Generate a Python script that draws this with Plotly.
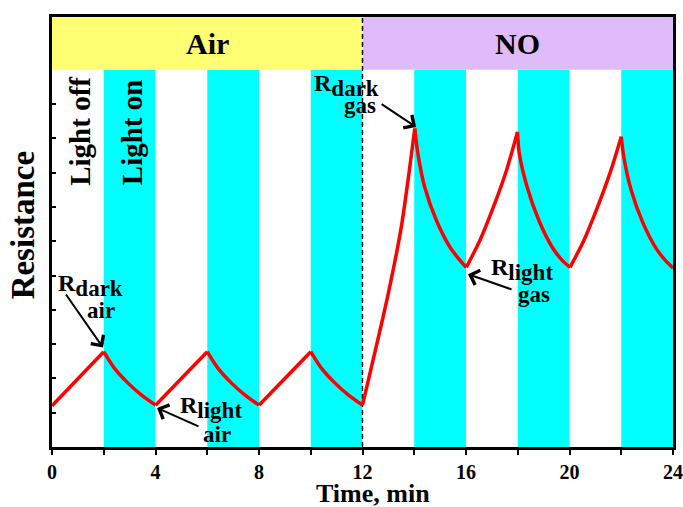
import plotly.graph_objects as go

# ---------------- data ----------------
time_min = [0, 2, 2.41, 2.93, 3.45, 4,
            6, 6.41, 6.93, 7.45, 8,
            10, 10.41, 10.93, 11.45, 12,
            12.5, 13, 13.5, 14.02,
            14.14, 14.40, 14.85, 15.37, 15.76, 16.01,
            16.54, 17.06, 17.57, 17.99,
            18.06, 18.36, 18.81, 19.32, 19.71, 20.02,
            20.54, 21.06, 21.57, 22.0,
            22.10, 22.38, 22.83, 23.34, 23.73, 24]
resistance = [1.20, 2.78, 2.30, 1.87, 1.52, 1.22,
              2.78, 2.30, 1.87, 1.52, 1.22,
              2.78, 2.30, 1.87, 1.52, 1.22,
              2.83, 4.49, 6.42, 9.29,
              8.56, 7.59, 6.62, 5.84, 5.45, 5.24,
              6.03, 7.00, 8.08, 9.19,
              8.56, 7.59, 6.62, 5.84, 5.45, 5.24,
              6.00, 6.95, 8.00, 9.05,
              8.45, 7.50, 6.55, 5.80, 5.42, 5.22]

light_on_starts = [2, 6, 10, 14, 18, 22]
light_on_length = 2
phase_names = ["Air", "NO"]
phase_starts = [0, 12]
phase_ends = [12, 24]
phase_colors = ["#FFFF73", "#DFBBFA"]
x_major_ticks = [0, 4, 8, 12, 16, 20, 24]
x_minor_ticks = [2, 6, 10, 14, 18, 22]
y_tick_vals = [0, 1, 2, 3, 4, 5, 6, 7, 8, 9, 10]

Y_MAX = 12.54
HEADER_BOTTOM = 11.0
FONT = "Liberation Serif"

fig = go.Figure()

# split the curve into monotonic pieces so cusps stay sharp
segments = []
start = 0
for i in range(1, len(resistance) - 1):
    d1 = resistance[i] - resistance[i - 1]
    d2 = resistance[i + 1] - resistance[i]
    if d1 * d2 < 0:
        segments.append((start, i))
        start = i
segments.append((start, len(resistance) - 1))

for a, b in segments:
    fig.add_trace(go.Scatter(
        x=time_min[a:b + 1], y=resistance[a:b + 1], mode="lines",
        line=dict(color="#FF0000", width=3.5, shape="spline", smoothing=0.8),
        showlegend=False, hoverinfo="skip"))

shapes = []
for s in light_on_starts:
    shapes.append(dict(type="rect", xref="x", yref="y", x0=s, x1=s + light_on_length,
                       y0=0, y1=HEADER_BOTTOM, fillcolor="#00FFFF", line=dict(width=0),
                       layer="below"))
for name, x0, x1, c in zip(phase_names, phase_starts, phase_ends, phase_colors):
    shapes.append(dict(type="rect", xref="x", yref="y", x0=x0, x1=x1,
                       y0=HEADER_BOTTOM, y1=Y_MAX, fillcolor=c, line=dict(width=0),
                       layer="below"))
shapes.append(dict(type="line", xref="x", yref="y", x0=12, x1=12, y0=0, y1=Y_MAX,
                   line=dict(color="black", width=1.4, dash="5px,3px"), layer="below"))

ann = []
def txt(x, y, s, size, angle=0, xanchor="center"):
    ann.append(dict(x=x, y=y, xref="x", yref="y", text=s, showarrow=False,
                    textangle=angle, xanchor=xanchor, yanchor="middle",
                    font=dict(family=FONT, size=size, color="black", weight="bold")))

def arrow(x_tail, y_tail, x_head, y_head):
    ann.append(dict(x=x_head, y=y_head, ax=x_tail, ay=y_tail, xref="x", yref="y",
                    axref="x", ayref="y", text="", showarrow=True, arrowhead=4,
                    arrowsize=1.5, arrowwidth=2, arrowcolor="black", standoff=0,
                    startstandoff=0))

def rlabel(x_left, y_r, sub, x_under, y_under, under):
    txt(x_left, y_r, "R<sub><span style='font-size:23px'>%s</span></sub>" % sub, 24,
        xanchor="left")
    txt(x_under, y_under, under, 23)

# header labels
for name, x0, x1 in zip(phase_names, phase_starts, phase_ends):
    txt((x0 + x1) / 2, (HEADER_BOTTOM + Y_MAX) / 2, name, 30)

txt(1.08, 9.22, "Light off", 29, -90)
txt(3.09, 9.18, "Light on", 29, -90)

# R labels
rlabel(0.17, 4.70, "dark", 1.89, 3.99, "air")
rlabel(4.88, 1.16, "light", 6.38, 0.37, "air")
rlabel(10.05, 10.55, "dark", 11.90, 9.97, "gas")
rlabel(16.90, 5.17, "light", 18.64, 4.46, "gas")

arrow(0.50, 4.49, 1.97, 2.90)
arrow(5.72, 0.58, 4.06, 1.14)
arrow(12.68, 10.03, 14.07, 9.33)
arrow(17.82, 4.58, 16.08, 5.04)

# axis titles
ann.append(dict(x=12.39, y=-0.108, xref="x", yref="paper", text="Time, min",
                showarrow=False, xanchor="center", yanchor="middle",
                font=dict(family=FONT, size=26, color="black", weight="bold")))
ann.append(dict(x=-0.047, y=0.515, xref="paper", yref="paper", text="Resistance",
                showarrow=False, textangle=-90, xanchor="center", yanchor="middle",
                font=dict(family=FONT, size=33, color="black", weight="bold")))

fig.update_layout(
    width=683, height=507,
    margin=dict(l=52, r=10, t=17, b=60, autoexpand=False),
    paper_bgcolor="white", plot_bgcolor="white",
    shapes=shapes, annotations=ann, showlegend=False,
    xaxis=dict(range=[0, 24], tickvals=x_major_ticks,
               ticks="outside", ticklen=5, tickwidth=1.5, tickcolor="black",
               minor=dict(tickvals=x_minor_ticks, ticks="outside", ticklen=5,
                          tickwidth=1.5, tickcolor="black", showgrid=False),
               showline=True, linewidth=3, linecolor="black", mirror=True,
               showgrid=False, zeroline=False, automargin=False,
               tickfont=dict(family=FONT, size=20, color="black", weight="bold")),
    yaxis=dict(range=[0, Y_MAX], tickvals=y_tick_vals, showticklabels=False,
               ticks="inside", ticklen=4, tickwidth=1.5, tickcolor="black",
               showline=True, linewidth=3, linecolor="black", mirror=True,
               showgrid=False, zeroline=False, automargin=False),
)

fig.write_html("out.html")
